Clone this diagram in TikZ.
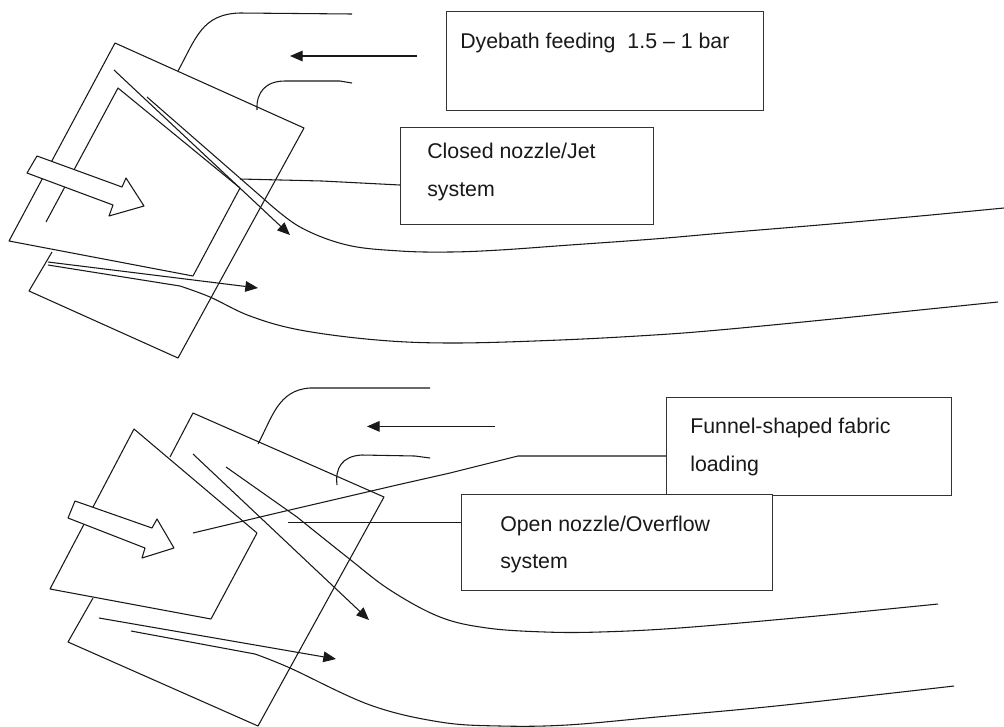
\documentclass[tikz,border=0pt]{standalone}
\usepackage{fontspec}
\setmainfont{Liberation Sans}
\usetikzlibrary{arrows.meta}
\tikzset{
  x=0.75pt,y=-0.75pt,
  ln/.style={draw=black!90,line width=0.8pt,line join=round},
  arr/.style={ln,-{Triangle[length=9.5pt,width=8pt]}},
  box/.style={draw=black!80,line width=0.95pt,fill=white,rectangle},
  lab/.style={font=\fontsize{16pt}{18pt}\selectfont,anchor=base west,inner sep=0pt,text=black!90},
  hollow/.style={ln,fill=white},
  curve/.style={ln,smooth,tension=0.6},
}
\begin{document}
\begin{tikzpicture}
\useasboundingbox (0,0) rectangle (1004,726);
% ---------- upper sketch
\draw[ln] (52,252) -- (29,291) -- (178,358) -- (304,128) -- (115,43) -- (9,241) -- (193,276) -- (240,188) -- (118,88) -- (46,222);
\draw[ln] (178,71) .. controls (196,38) and (202,14) .. (240,13) -- (352,14);
\draw[ln] (257,110) .. controls (256,92) and (266,81) .. (285,81) -- (340,81) -- (352,83);
\coordinate (f1) at (417,56); \coordinate (f1e) at (290,56);
\draw[arr] (f1) -- (f1e);
\draw[arr] (114,70) -- (290,235);
\draw[ln] (147,97) -- (265,200);
\draw[curve] plot coordinates {(265,200) (300,227) (347,245) (400,251) (450,252) (500,250) (570,245) (654,239) (723,233) (831,224) (920,216) (1004,208)};
\draw[arr] (48,262) -- (258,288);
\draw[ln] (48,265) -- (180,286);
\draw[curve] plot coordinates {(180,286) (210,297) (250,316) (300,330) (377,340) (454,343) (560,340) (654,335) (719,330) (823,320) (910,311) (998,302)};
\draw[hollow] (37,156) -- (122,187) -- (126,178) -- (144,206) -- (109,216) -- (113,205) -- (27,173) -- cycle;
\node[box,minimum width=317pt*0.75,minimum height=99pt*0.75,anchor=north west] (dye) at (446,11) {};
\node[lab] (dyet) at (460,48) {Dyebath feeding\ \ 1.5 – 1 bar};
\node[box,minimum width=253pt*0.75,minimum height=97pt*0.75,anchor=north west] (closed) at (400,127) {};
\node[lab] (ct1) at (427,158) {Closed nozzle/Jet};
\node[lab] (ct2) at (427,196) {system};
\coordinate (c0) at (240,179);
\draw[ln] (c0) -- (322,181) -- (closed.west |- 0,185);
% ---------- lower sketch
\draw[ln] (170,457) -- (193,413) -- (384,497) -- (258,726) -- (68,642) -- (93,598);
\draw[ln,fill=white] (134,429) -- (257,533) -- (211,619) -- (50,589) -- cycle;
\draw[ln] (258,444) .. controls (272,418) and (278,390) .. (310,388) -- (430,388);
\draw[ln] (337,485) .. controls (335,468) and (342,456) .. (362,455) -- (415,456) -- (430,458);
\coordinate (f2) at (495,426.4); \coordinate (f2e) at (367,426.4);
\draw[arr] (f2) -- (f2e);
\draw[arr] (193,454) -- (369,620);
\draw[ln] (226,467) -- (297,517);
\draw[curve] plot coordinates {(297,517) (347,557) (390,590) (440,617) (487,628) (545,632) (600,632) (679,628) (806,617) (938,604)};
\draw[arr] (99,618) -- (336,659);
\draw[ln] (131,631) -- (255,654);
\draw[curve] plot coordinates {(255,654) (290,668) (370,705) (440,722) (500,726) (567,725) (657,717) (766,707) (875,695) (954,686)};
\draw[hollow] (75,501) -- (152,528) -- (157,519) -- (174,548) -- (142,558) -- (145,548) -- (68,518) -- cycle;
\node[box,minimum width=285pt*0.75,minimum height=98pt*0.75,anchor=north west] (fun) at (666,397) {};
\node[lab] (ft1) at (690,433) {Funnel-shaped fabric};
\node[lab] (ft2) at (690,471) {loading};
\node[box,minimum width=311pt*0.75,minimum height=96pt*0.75,anchor=north west] (open) at (461,494) {};
\node[lab] (ot1) at (500,531) {Open nozzle/Overflow};
\node[lab] (ot2) at (500,568) {system};
\coordinate (o0) at (288,522.6); \coordinate (u0) at (193,533);
\draw[ln] (o0) -- (open.west |- 0,522.6);
\draw[ln] (u0) -- (277,513) -- (397,485) -- (450,473) -- (518,456) -- (fun.west |- 0,456);
\end{tikzpicture}
\end{document}
